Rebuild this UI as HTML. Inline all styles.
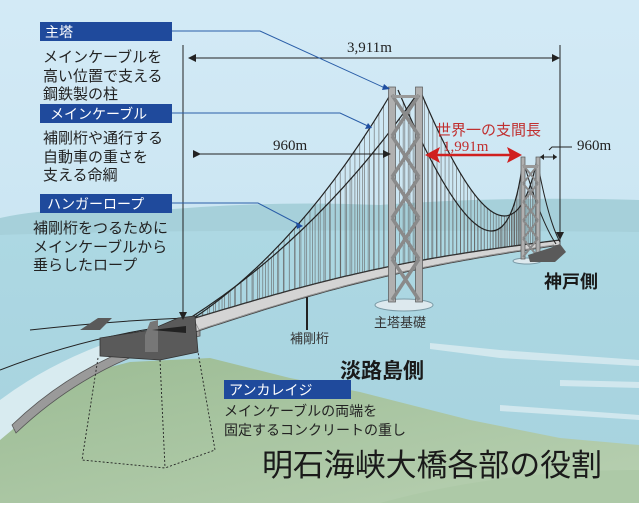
<!DOCTYPE html>
<html><head><meta charset="utf-8"><style>
html,body{margin:0;padding:0}
body{width:639px;height:503px;overflow:hidden;font-family:"Liberation Sans","Noto Sans CJK JP",sans-serif}
</style></head><body>
<svg id="s" width="639" height="503" viewBox="0 0 639 503" xmlns="http://www.w3.org/2000/svg" font-family="Liberation Sans, Noto Sans CJK JP, sans-serif">
<defs>
<linearGradient id="sky" x1="0" y1="0" x2="0" y2="1"><stop offset="0" stop-color="#d3eaf6"/><stop offset="1" stop-color="#c2e1ee"/></linearGradient>
<linearGradient id="sea" x1="0" y1="0" x2="0" y2="1"><stop offset="0" stop-color="#add8e3"/><stop offset="1" stop-color="#a6d2de"/></linearGradient>
<linearGradient id="land" x1="0" y1="0" x2="1" y2="1"><stop offset="0" stop-color="#9cbc94"/><stop offset="1" stop-color="#b8d0b2"/></linearGradient>
</defs>
<rect width="639" height="503" fill="url(#sky)"/>
<path d="M0 218 Q60 205 140 212 Q260 200 380 205 Q500 196 639 200 L639 503 L0 503Z" fill="#a6d0da"/>
<path d="M0 235 Q200 228 639 232 L639 503 L0 503Z" fill="url(#sea)"/>
<path d="M0 440 L60 380 L130 362 L210 358 L290 378 L360 392 L470 420 L560 438 L639 445 L639 503 L0 503Z" fill="url(#land)"/>
<path d="M380 503 Q500 470 639 470 L639 503Z" fill="#adc9a7"/>
<g fill="#e2f0f4" opacity="0.7">
<path d="M430 343 L500 350 L639 360 L639 366 L500 358 L430 349Z"/>
<path d="M500 405 L639 415 L639 420 L500 411Z"/>
<path d="M560 380 L639 382 L639 388 L560 386Z"/>
</g>
<path d="M0 400 Q80 340 200 318 L200 332 Q90 352 12 430 L0 440Z" fill="#d8ebf0"/>
<path d="M12 425 Q90 350 200 328 L200 336 Q95 358 16 433Z" fill="#9a9a9a" stroke="#555" stroke-width="0.8"/>
<g id="g"></g>
<path d="M100 338 L150 330 L178 318 L195 316 L198 352 L160 360 L100 356Z" fill="#5a5a5a" stroke="#333" stroke-width="0.8"/>
<path d="M145 335 L150 322 L158 320 L158 352 L145 352Z" fill="#777"/>
<path d="M80 330 L98 318 L112 318 L100 330Z" fill="#5a5a5a"/>
<path d="M528 255 L550 248 L560 244 L566 252 L555 262 L530 262Z" fill="#5a5a5a"/>
<g stroke="#222" stroke-width="0.9" stroke-dasharray="2,2" fill="none">
<path d="M98 358 L82 460 L165 468 L215 450 L198 352"/><path d="M160 360 L165 468"/>
</g>
<g stroke="#222" stroke-width="1" fill="none">
<line x1="183" y1="45" x2="183" y2="312"/>
<line x1="190" y1="58" x2="552" y2="58"/>
<line x1="560" y1="45" x2="560" y2="232"/>
<line x1="198" y1="154" x2="383" y2="154"/>
<line x1="540" y1="157" x2="557" y2="157"/>
<path d="M549 150 L552 147 L572 147"/>
<line x1="307" y1="297" x2="307" y2="330" stroke-width="2"/>
</g>
<g fill="#222">
<path d="M552 54 L560 58 L552 62Z"/><path d="M188 58 L196 54 L196 62Z"/>
<path d="M556 232 L560 240 L564 232Z"/><path d="M179 312 L183 320 L187 312Z"/>
<path d="M193 150 L201 154 L193 158Z M383 150 L391 154 L383 158Z"/>
<path d="M540 157 L544 154 L544 160Z M557 157 L553 154 L553 160Z"/>
<path d="M152 330 L186 326 L186 333Z"/>
</g>
<g stroke="#2a5ea8" stroke-width="1" fill="none">
<path d="M172 31 L260 31 L385 88"/><path d="M172 113 L340 113 L370 127"/><path d="M172 203 L258 203 L300 225"/>
</g>
<g fill="#1f4ea0"><path d="M384 84 L390 89 L382 90Z M368 123 L372 128 L365 129Z M296 222 L303 226 L297 229Z"/></g>
<line x1="435" y1="155" x2="512" y2="155" stroke="#d02020" stroke-width="2.5"/>
<path d="M425 155 L440 147 L437 155 L440 163Z M522 155 L507 147 L510 155 L507 163Z" fill="#d02020"/>
<g fill="#1f4a9c"><rect x="40" y="22" width="132" height="19"/><rect x="40" y="104" width="132" height="19"/><rect x="40" y="194" width="132" height="19"/><rect x="224" y="380" width="127" height="19"/></g>
<g fill="#fff" font-size="14"><text x="45" y="37">主塔</text><text x="50" y="119">メインケーブル</text><text x="47" y="209">ハンガーロープ</text><text x="229" y="395">アンカレイジ</text></g>
<g fill="#222" font-size="15">
<text x="43" y="62">メインケーブルを</text><text x="43" y="81">高い位置で支える</text><text x="43" y="99">鋼鉄製の柱</text>
<text x="43" y="143">補剛桁や通行する</text><text x="43" y="162">自動車の重さを</text><text x="43" y="180">支える命綱</text>
<text x="33" y="233">補剛桁をつるために</text><text x="33" y="252">メインケーブルから</text><text x="33" y="270">垂らしたロープ</text>
</g>
<g fill="#222" font-family="Liberation Serif, serif" font-size="15">
<text x="347" y="52">3,911m</text><text x="273" y="150">960m</text><text x="577" y="150">960m</text>
</g>
<text x="436" y="135" fill="#c03030" font-size="15">世界一の支間長</text>
<text x="443" y="151" fill="#c03030" font-family="Liberation Serif, serif" font-size="15">1,991m</text>
<text x="544" y="288" fill="#1a1a1a" font-size="18" font-weight="bold">神戸側</text>
<text x="374" y="327" fill="#333" font-size="13">主塔基礎</text>
<text x="290" y="343" fill="#333" font-size="13">補剛桁</text>
<text x="340" y="378" fill="#1a1a1a" font-size="21" font-weight="bold">淡路島側</text>
<text x="224" y="416" fill="#222" font-size="14">メインケーブルの両端を</text>
<text x="224" y="435" fill="#222" font-size="14">固定するコンクリートの重し</text>
<text x="262" y="476" fill="#1a1a1a" font-size="31" textLength="340">明石海峡大橋各部の役割</text>
</svg>
<script>
(function(){
var g=document.getElementById('g'),h='';
function q(p0,c,p2,t){var u=1-t;return [u*u*p0[0]+2*u*t*c[0]+t*t*p2[0],u*u*p0[1]+2*u*t*c[1]+t*t*p2[1]];}
function deckY(x){var t=(x-195)/365;return 318-t*78-Math.sin(t*Math.PI)*10;}
function thick(x){return 14-(x-195)/365*9;}
var spans=[[[185,324],[300,250],[393,90]],[[398,90],[502,331],[523,160]],[[420,90],[508,300],[537,160]],[[190,318],[320,235],[420,90]]];
spans.forEach(function(s){for(var i=1;i<40;i++){var p=q(s[0],s[1],s[2],i/40);var dy=deckY(p[0]);if(dy>p[1]+2)h+='<line x1="'+p[0]+'" y1="'+p[1]+'" x2="'+p[0]+'" y2="'+dy+'" stroke="#666" stroke-width="0.6"/>';}});
var tp='',bp='';
for(var x=195;x<=560;x+=5){tp+=(x==195?'M':' L')+x+' '+deckY(x).toFixed(1);}
for(var x=560;x>=195;x-=5){bp+=' L'+x+' '+(deckY(x)+thick(x)).toFixed(1);}
h+='<path d="'+tp+bp+'Z" fill="#d4d4d4" stroke="#444" stroke-width="0.9"/>';
var zz='M195 '+(deckY(195)+4);for(var x=199;x<555;x+=5){zz+=' L'+x+' '+(deckY(x)+(((x-195)/5)%2?thick(x)-1:3)).toFixed(1);}
h+='<path d="'+zz+'" fill="none" stroke="#888" stroke-width="0.7"/>';
h+='<path d="'+tp+'" fill="none" stroke="#333" stroke-width="1.3"/>';
spans.forEach(function(s){h+='<path d="M'+s[0]+' Q'+s[1]+' '+s[2]+'" fill="none" stroke="#222" stroke-width="1.2"/>';});
h+='<path d="M30 330 Q120 320 190 318" fill="none" stroke="#222" stroke-width="1"/><path d="M0 370 Q90 335 185 324" fill="none" stroke="#222" stroke-width="1"/>';
h+='<path d="M537 160 Q548 220 560 242" fill="none" stroke="#222" stroke-width="1"/><path d="M523 160 Q540 220 556 244" fill="none" stroke="#222" stroke-width="1"/>';
function tower(x1,x2,tq,bt,w){var s='';s+='<rect x="'+(x1-w/2)+'" y="'+tq+'" width="'+w+'" height="'+(bt-tq)+'" fill="#b0b0b0" stroke="#555" stroke-width="0.7"/>';s+='<rect x="'+(x2-w/2)+'" y="'+tq+'" width="'+w+'" height="'+(bt-tq)+'" fill="#b0b0b0" stroke="#555" stroke-width="0.7"/>';var n=5,dh=(bt-tq-10)/n;for(var i=0;i<n;i++){var y=tq+8+i*dh;s+='<path d="M'+x1+' '+y+' L'+x2+' '+(y+dh)+' M'+x2+' '+y+' L'+x1+' '+(y+dh)+'" stroke="#8a8a8a" stroke-width="'+(w/2)+'"/>';}s+='<rect x="'+x1+'" y="'+(tq+8)+'" width="'+(x2-x1)+'" height="3" fill="#999"/>';return s;}
h+='<ellipse cx="404" cy="305" rx="29" ry="6" fill="#dde9ee" stroke="#7a9aa6"/>';
h+=tower(392,419,87,302,7);
h+='<ellipse cx="527" cy="261" rx="14" ry="3" fill="#dde9ee" stroke="#7a9aa6"/>';
h+=tower(523,538,157,259,4);
g.innerHTML=h;
})();
</script>
</body></html>
